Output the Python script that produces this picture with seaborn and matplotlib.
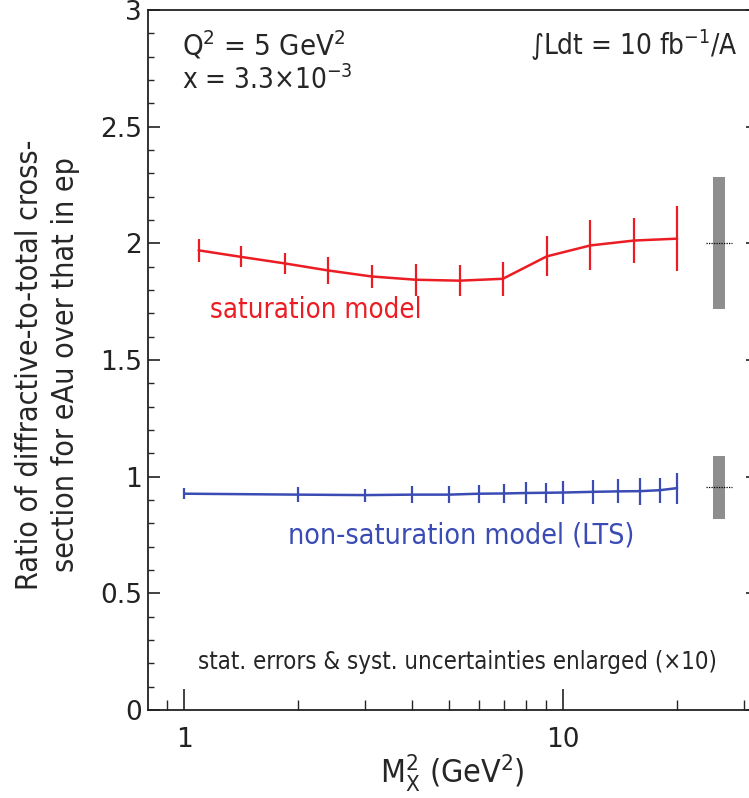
import numpy as np
import pandas as pd
import matplotlib
matplotlib.use("Agg")
import matplotlib.pyplot as plt
import seaborn as sns
from matplotlib.ticker import MultipleLocator, FixedLocator, FuncFormatter, NullFormatter

# M_X^2 bin centres (GeV^2) and ratio values for the saturation model
sat_mx2 = [1.09, 1.41, 1.84, 2.39, 3.12, 4.08, 5.33, 6.93, 9.05, 11.8, 15.4, 20.0]
sat_ratio = [1.970, 1.942, 1.914, 1.884, 1.858, 1.844, 1.840, 1.848, 1.944, 1.991, 2.012, 2.020]
sat_err = [0.048, 0.045, 0.046, 0.058, 0.051, 0.069, 0.067, 0.074, 0.086, 0.107, 0.098, 0.138]

# non-saturation (LTS) model
lts_mx2 = [1, 2, 3, 4, 5, 6, 7, 8, 9, 10, 12, 14, 16, 18, 20]
lts_ratio = [0.927, 0.923, 0.921, 0.923, 0.923, 0.927, 0.928, 0.930, 0.931, 0.932,
             0.935, 0.937, 0.938, 0.942, 0.951]
lts_err = [0.024, 0.033, 0.028, 0.037, 0.036, 0.039, 0.039, 0.049, 0.043, 0.050,
           0.051, 0.051, 0.058, 0.054, 0.066]

# systematic uncertainty boxes (drawn to the right of the data)
syst_center = [2.0, 0.955]
syst_half = [0.283, 0.135]
syst_lo_x, syst_hi_x = 24.86, 26.74
syst_dot_lo, syst_dot_hi = 23.9, 28.0

RED = "#ec1c24"
BLUE = "#3a4cb4"
GREY = "#8e8e8e"

sns.set_theme(style="ticks")
FONT = "DejaVu Sans"
plt.rcParams["font.family"] = [FONT]
plt.rcParams["font.stretch"] = "condensed"
plt.rcParams["mathtext.fontset"] = "custom"
plt.rcParams["mathtext.rm"] = "DejaVu Sans:stretch=condensed"
plt.rcParams["mathtext.it"] = "DejaVu Sans:stretch=condensed"
plt.rcParams["mathtext.default"] = "regular"

fig = plt.figure(figsize=(7.49, 7.98), dpi=100)
ax = fig.add_axes([147.7 / 749, 88 / 798, (758 - 147.7) / 749, 700 / 798])

sat_df = pd.DataFrame({"mx2": sat_mx2, "ratio": sat_ratio})
lts_df = pd.DataFrame({"mx2": lts_mx2, "ratio": lts_ratio})

sns.lineplot(data=sat_df, x="mx2", y="ratio", color=RED, lw=1.8, ax=ax, zorder=3)
sns.lineplot(data=lts_df, x="mx2", y="ratio", color=BLUE, lw=1.8, ax=ax, zorder=3)
ax.errorbar(sat_mx2, sat_ratio, yerr=sat_err, fmt="none", ecolor=RED, elinewidth=1.6,
            capsize=0, zorder=3)
ax.errorbar(lts_mx2, lts_ratio, yerr=lts_err, fmt="none", ecolor=BLUE, elinewidth=1.6,
            capsize=0, zorder=3)

for c, h in zip(syst_center, syst_half):
    ax.bar(syst_lo_x, 2 * h, width=syst_hi_x - syst_lo_x, bottom=c - h, align="edge",
           color=GREY, linewidth=0, zorder=2)
    ax.plot([syst_dot_lo, syst_dot_hi], [c, c], color="black", lw=0.9, ls=(0, (1, 1)),
            zorder=4)

ax.set_xscale("log")
ax.set_xlim(0.8, 32.7)
ax.set_ylim(0, 3)

# axis frame: left, bottom, top, right (right edge sits just outside the canvas)
for s in ["left", "bottom", "top", "right"]:
    ax.spines[s].set_visible(True)
    ax.spines[s].set_linewidth(1.3)
    ax.spines[s].set_color("#222222")

ax.yaxis.set_major_locator(MultipleLocator(0.5))
ax.yaxis.set_minor_locator(MultipleLocator(0.1))
ax.yaxis.set_major_formatter(FuncFormatter(lambda v, p: f"{v:g}"))
ax.xaxis.set_major_locator(FixedLocator([1, 10]))
ax.xaxis.set_minor_locator(FixedLocator([0.9, 2, 3, 4, 5, 6, 7, 8, 9, 20, 30]))
ax.xaxis.set_major_formatter(FuncFormatter(lambda v, p: f"{v:g}"))
ax.xaxis.set_minor_formatter(NullFormatter())

ax.tick_params(axis="y", which="major", direction="in", length=8.5, width=1.2,
               left=True, right=True, labelsize=19, pad=4, colors="#222222")
ax.tick_params(axis="y", which="minor", direction="in", length=4.2, width=1.0,
               left=True, right=False)
ax.tick_params(axis="x", which="major", direction="in", length=15, width=1.2,
               bottom=True, top=False, labelsize=19, pad=12, colors="#222222")
ax.tick_params(axis="x", which="minor", direction="in", length=7.5, width=1.0,
               bottom=True, top=False)
for lab in ax.get_yticklabels() + ax.get_xticklabels():
    lab.set_fontstretch("normal")

ax.set_xlabel(r"M$_X^2$ (GeV$^2$)", fontsize=23, labelpad=0)
ax.set_ylabel("Ratio of diffractive-to-total cross-\nsection for eAu over that in ep",
              fontsize=21.8, va="center", ha="center", multialignment="center",
              linespacing=1.32)
ax.yaxis.set_label_coords(-0.1640, 0.493)

ax.text(0.056, 0.950, r"Q$^2$ = 5 GeV$^2$", transform=ax.transAxes, fontsize=21,
        ha="left", va="center")
ax.text(0.056, 0.900, r"x = 3.3×10$^{-3}$", transform=ax.transAxes, fontsize=20,
        ha="left", va="center")
ax.text(0.9675, 0.950, r"∫Ldt = 10 fb$^{-1}$/A", transform=ax.transAxes, fontsize=20,
        ha="right", va="center")
ax.text(0.102, 0.571, "saturation model", transform=ax.transAxes, fontsize=19.8,
        color=RED, ha="left", va="center")
ax.text(0.230, 0.2486, "non-saturation model (LTS)", transform=ax.transAxes,
        fontsize=20.5, color=BLUE, ha="left", va="center")
ax.text(0.0824, 0.0686, "stat. errors & syst. uncertainties enlarged (×10)",
        transform=ax.transAxes, fontsize=17.2, ha="left", va="center")

fig.savefig("out.png", dpi=100)
